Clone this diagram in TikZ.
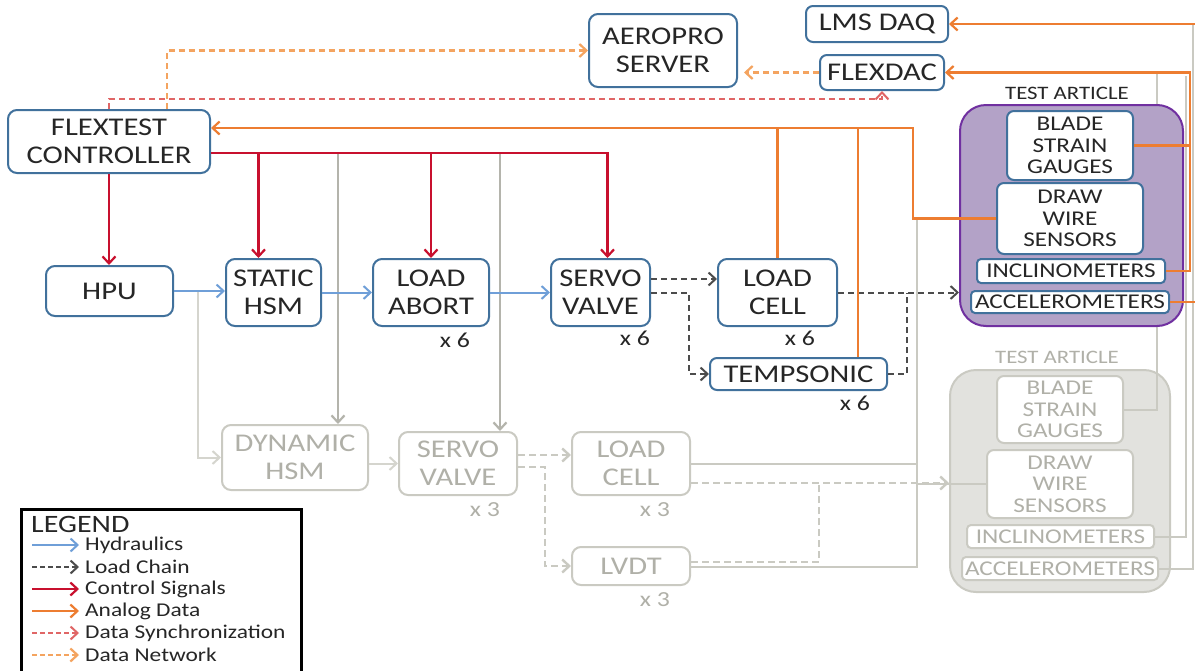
\documentclass[tikz,border=0pt]{standalone}
\usepackage{fontspec}
\setmainfont{Carlito}[FakeStretch=1.2]
\usetikzlibrary{arrows.meta,calc}
\definecolor{nodeblue}{HTML}{41719C}
\definecolor{hydblue}{HTML}{6F9FD8}
\definecolor{ctrlred}{HTML}{C8102E}
\definecolor{anaorange}{HTML}{ED7D31}
\definecolor{syncred}{HTML}{E06666}
\definecolor{netorange}{HTML}{F4A460}
\definecolor{lgray}{HTML}{CACAC2}
\definecolor{mgray}{HTML}{B4B4AC}
\definecolor{txtgray}{HTML}{B0B0A8}
\definecolor{pfill}{HTML}{B3A2C7}
\definecolor{pborder}{HTML}{7030A0}
\definecolor{gfill}{HTML}{E2E2DE}
\definecolor{txt}{HTML}{262626}
\begin{document}
\begin{tikzpicture}[x=1pt,y=-1pt,
  arrowed/.style={-{Straight Barb[length=7pt,width=13pt]}},
  box/.style={draw=nodeblue, line width=2pt, rounded corners=9pt, fill=white, text=txt, inner sep=0pt, align=center, font=\fontsize{25.5}{28}\selectfont},
  sbox/.style={box, rounded corners=7pt, font=\fontsize{21}{21.5}\selectfont},
  gbox/.style={box, draw=lgray, text=txtgray},
  gsbox/.style={sbox, draw=lgray, text=txtgray},
  xlab/.style={text=txt, inner sep=0pt, font=\fontsize{21.5}{21.5}\selectfont},
  gxlab/.style={xlab, text=txtgray},
  talab/.style={text=txt, inner sep=0pt, font=\fontsize{19}{19}\selectfont},
  legtxt/.style={text=txt, inner sep=0pt, anchor=west, font=\fontsize{19.5}{19.5}\selectfont},
  hyd/.style={draw=hydblue, line width=2pt},
  ghyd/.style={draw=lgray!80, line width=2pt},
  ctrlsig/.style={draw=ctrlred, line width=2.2pt},
  gctrl/.style={draw=mgray, line width=2.2pt},
  analog/.style={draw=anaorange, line width=2.2pt},
  sync/.style={draw=syncred, line width=2pt, dash pattern=on 6pt off 4pt},
  net/.style={draw=netorange, line width=2.2pt, dash pattern=on 6pt off 4pt},
  lchain/.style={draw=black!70, line width=2pt, dash pattern=on 6pt off 4pt},
  gline/.style={draw=lgray, line width=2pt},
  gdash/.style={draw=lgray, line width=2.4pt, dash pattern=on 7pt off 4pt}
]
\useasboundingbox[fill=white] (0,0) rectangle (1195,670);

% ---------- gray (inactive) test article ----------
\node[draw=lgray, line width=2pt, fill=gfill, rounded corners=26pt, minimum width=220pt, minimum height=222pt, inner sep=0pt] (gta) at (1060,481) {};
\node[talab, text=txtgray] (gtalab) at (1057,357) {TEST ARTICLE};
\node[gsbox, minimum width=126pt, minimum height=67pt] (gbsg) at (1060,409.5) {BLADE\\STRAIN\\GAUGES};
\node[gsbox, minimum width=146pt, minimum height=68pt] (gdws) at (1060,484) {DRAW\\WIRE\\SENSORS};
\node[gsbox, rounded corners=4pt, minimum width=187pt, minimum height=23pt] (gincl) at (1060.5,536.5) {INCLINOMETERS};
\node[gsbox, rounded corners=4pt, minimum width=196pt, minimum height=23pt] (gacc) at (1060,568.5) {ACCELEROMETERS};

% ---------- gray (inactive) chain ----------
\node[gbox, minimum width=146pt, minimum height=65pt] (dhsm) at (295,457.5) {DYNAMIC\\HSM};
\node[gbox, minimum width=118pt, minimum height=63pt] (gsv) at (458,463.5) {SERVO\\VALVE};
\node[gbox, minimum width=118pt, minimum height=63pt] (glc) at (631,463.5) {LOAD\\CELL};
\node[gbox, minimum width=118pt, minimum height=38pt] (lvdt) at (631,566) {LVDT};
\node[gxlab] (x3a) at (485,510) {x 3};
\node[gxlab] (x3b) at (655,510) {x 3};
\node[gxlab] (x3c) at (655,600) {x 3};

% ---------- active nodes ----------
\node[box, minimum width=202pt, minimum height=63pt] (ctrl) at (109,141.5) {FLEXTEST\\CONTROLLER};
\node[box, minimum width=148pt, minimum height=73pt] (aero) at (663,50.5) {AEROPRO\\SERVER};
\node[box, rounded corners=7pt, minimum width=142pt, minimum height=36pt] (lms) at (877,24) {LMS DAQ};
\node[box, rounded corners=7pt, minimum width=124pt, minimum height=35pt] (fdac) at (882,72.5) {FLEXDAC};
\node[box, minimum width=127pt, minimum height=50pt] (hpu) at (109.5,291) {HPU};
\node[box, minimum width=95pt, minimum height=67pt] (shsm) at (273.5,292.5) {STATIC\\HSM};
\node[box, minimum width=116pt, minimum height=67pt] (labort) at (431,292.5) {LOAD\\ABORT};
\node[box, minimum width=99pt, minimum height=67pt] (svalve) at (600.5,292.5) {SERVO\\VALVE};
\node[box, minimum width=119pt, minimum height=67pt] (lcell) at (777.5,292.5) {LOAD\\CELL};
\node[box, rounded corners=7pt, minimum width=177pt, minimum height=32pt] (temp) at (798.5,374) {TEMPSONIC};
\node[xlab] (x6a) at (455,340) {x 6};
\node[xlab] (x6b) at (635,338) {x 6};
\node[xlab] (x6c) at (800,338) {x 6};
\node[xlab] (x6d) at (855,403) {x 6};

% ---------- gray connectors ----------
\coordinate (cl) at ([yshift=-11.5pt]ctrl.east);
\coordinate (al) at ([yshift=13.5pt]ctrl.east);
\coordinate (dt) at ([xshift=43pt]dhsm.north);
\coordinate (gst) at ([xshift=42pt]gsv.north);
\draw[gctrl,arrowed] (cl -| dt) -- (dt);
\draw[gctrl,arrowed] (cl -| gst) -- (gst);

\coordinate (gh) at ([xshift=24pt]hpu.east);
\draw[ghyd,arrowed] (gh) |- (dhsm.west);
\draw[ghyd,arrowed] (dhsm.east |- gsv.west) -- (gsv.west);
\coordinate (g1) at ([yshift=8.5pt]gsv.east);
\draw[gdash,arrowed] (g1) -- (g1 -| glc.west);
\coordinate (g2) at ([yshift=-3.5pt]gsv.east);
\draw[gdash,arrowed] (g2) -- ++(27,0) |- (lvdt.west);

\coordinate (gx) at (917,218.5);
\coordinate (l1) at ([yshift=-1pt]lvdt.east);
\draw[gline] (l1) -| (gx);
\draw[gline] (glc.east) -- (glc.east -| gx);
\draw[gline] (gdws.west) -- (gdws.west -| gx);
\coordinate (g3) at ([yshift=-19.5pt]glc.east);
\draw[gdash,arrowed] (g3) -- (g3 -| gta.west);
\coordinate (g4) at ([yshift=4pt]lvdt.east);
\coordinate (g5) at ($(g4)+(128,0)$);
\draw[gdash] (g4) -- (g5) -- (g5 |- g3);

\coordinate (gr1) at (1157,72.5);
\draw[gline] (gbsg.east) -| (gr1);
\coordinate (gr2) at (1186,76);
\draw[gline] (gincl.east) -| (gr2);
\coordinate (gr3) at (1193,24);
\draw[gline] (gacc.east) -| (gr3);

% ---------- active test article ----------
\node[draw=pborder, line width=2pt, fill=pfill, rounded corners=26pt, minimum width=223pt, minimum height=221pt, inner sep=0pt] (ta) at (1071.5,215.5) {};
\node[talab] (talab) at (1067,93) {TEST ARTICLE};
\node[sbox, minimum width=126pt, minimum height=69pt] (bsg) at (1070,145.5) {BLADE\\STRAIN\\GAUGES};
\node[sbox, minimum width=146pt, minimum height=71pt] (dws) at (1070,218.5) {DRAW\\WIRE\\SENSORS};
\node[sbox, rounded corners=4pt, minimum width=188pt, minimum height=24pt] (incl) at (1071,271) {INCLINOMETERS};
\node[sbox, rounded corners=4pt, minimum width=198pt, minimum height=22pt] (acc) at (1070,302) {ACCELEROMETERS};

% ---------- hydraulics ----------
\draw[hyd,arrowed] (hpu.east) -- (hpu.east -| shsm.west);
\draw[hyd,arrowed] (shsm.east) -- (labort.west);
\draw[hyd,arrowed] (labort.east) -- (svalve.west);

% ---------- control signals ----------
\coordinate (st) at ([xshift=-15pt]shsm.north);
\coordinate (svt) at ([xshift=7pt]svalve.north);
\draw[ctrlsig,arrowed] (cl) -| (svt);
\draw[ctrlsig,arrowed] (cl -| st) -- (st);
\draw[ctrlsig,arrowed] (cl -| labort.north) -- (labort.north);
\draw[ctrlsig,arrowed] (ctrl.south) -- (ctrl.south |- hpu.north);

% ---------- load chain ----------
\coordinate (sv1) at ([yshift=13.5pt]svalve.east);
\draw[lchain,arrowed] (sv1) -- (sv1 -| lcell.west);
\coordinate (sv2) at ([yshift=-0.5pt]svalve.east);
\draw[lchain,arrowed] (sv2) -- ++(38,0) |- (temp.west);
\draw[lchain,arrowed] (lcell.east) -- (lcell.east -| ta.west);
\coordinate (tx) at ([xshift=19pt]temp.east);
\draw[lchain] (temp.east) -- (tx) -- (tx |- lcell.east);

% ---------- analog data ----------
\coordinate (ox) at (913,0);
\coordinate (tt) at ([xshift=59.5pt]temp.north);
\draw[analog,arrowed] (dws.west) -- (dws.west -| ox) |- (al);
\draw[analog] (lcell.north) -- (lcell.north |- al);
\draw[analog] (tt) -- (tt |- al);
\coordinate (rx) at (1190,0);
\draw[analog,arrowed] (incl.east) -- (incl.east -| rx) |- (fdac.east);
\draw[analog] (bsg.east) -- (bsg.east -| rx);
\coordinate (ex) at (1197,0);
\draw[analog,arrowed] (lms.east -| ex) -- (lms.east);
\draw[analog] (acc.east) -- (acc.east -| ex);

% ---------- data network ----------
\coordinate (nt) at ([xshift=58pt]ctrl.north);
\draw[net,arrowed] (nt) |- (aero.west);
\draw[net,arrowed,shorten >=6pt] (fdac.west) -- (fdac.west -| aero.east);

% ---------- data synchronization ----------
\draw[sync,arrowed] (ctrl.north) -- ++(0,-10) -| (fdac.south);

% ---------- legend ----------
\node[draw=black, line width=2.5pt, fill=white, minimum width=280pt, minimum height=170pt, inner sep=0pt, anchor=north west] (legend) at (20,508) {};
\node[text=txt, inner sep=0pt, anchor=west, font=\fontsize{25}{25}\selectfont] (legtitle) at (31,524) {LEGEND};
\node[legtxt] (lg1) at (85,545) {Hydraulics};
\node[legtxt] (lg2) at (85,567) {Load Chain};
\node[legtxt] (lg3) at (85,589) {Control Signals};
\node[legtxt] (lg4) at (85,611) {Analog Data};
\node[legtxt] (lg5) at (85,633) {Data Synchronization};
\node[legtxt] (lg6) at (85,655) {Data Network};
\draw[hyd,arrowed] ([xshift=-53pt]lg1.west) -- ([xshift=-6pt]lg1.west);
\draw[lchain,arrowed,dash pattern=on 5pt off 3pt] ([xshift=-53pt]lg2.west) -- ([xshift=-6pt]lg2.west);
\draw[ctrlsig,arrowed] ([xshift=-53pt]lg3.west) -- ([xshift=-6pt]lg3.west);
\draw[analog,arrowed] ([xshift=-53pt]lg4.west) -- ([xshift=-6pt]lg4.west);
\draw[sync,arrowed,dash pattern=on 5pt off 3pt] ([xshift=-53pt]lg5.west) -- ([xshift=-6pt]lg5.west);
\draw[net,arrowed,dash pattern=on 5pt off 3pt] ([xshift=-53pt]lg6.west) -- ([xshift=-6pt]lg6.west);
\end{tikzpicture}
\end{document}
